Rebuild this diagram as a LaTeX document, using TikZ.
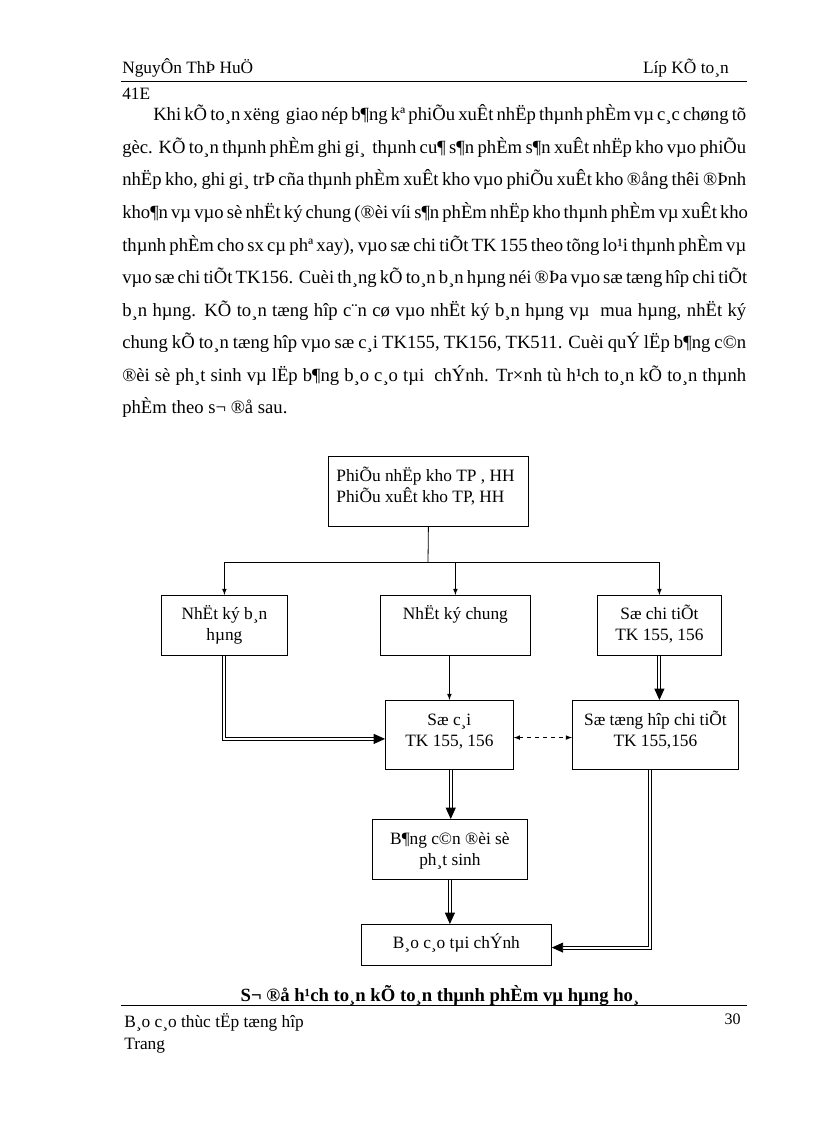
\documentclass[tikz,border=0pt]{standalone}
\usepackage{fontspec}
\setmainfont{Liberation Serif}
\usetikzlibrary{arrows.meta}
\newdimen\pxu \pxu=0.75pt
% box text: width, height, top gap, text
\newcommand{\boxtxt}[4]{\parbox[c][#2\pxu][t]{#1\pxu}{\centering\vspace{#3\pxu}\strut#4}}
\newcommand{\jline}[2]{\makebox[#1\pxu][s]{#2}}
\tikzset{
	tbox/.style={draw,line width=0.6pt,inner sep=0pt,anchor=north west,font=\fontsize{13}{16.1}\selectfont},
	txt/.style={inner sep=0pt,anchor=base west},
	small/.style={font=\fontsize{13}{15}\selectfont},
	dbl/.style={double,double distance=1.6pt,line width=0.65pt,-{Triangle[length=8.5pt,width=7.5pt]}}
}
\begin{document}
\begin{tikzpicture}[x=0.75pt,y=-0.75pt,font=\fontsize{14}{16.1}\selectfont]
	\useasboundingbox (0,0) rectangle (816,1123);
	% header
	\node[txt,small] (name) at (122,74) {NguyÔn ThÞ HuÖ};
	\node[inner sep=0pt,anchor=base east,small] (class) at (729,74) {Líp KÕ to¸n};
	\draw[line width=0.6pt] (121,81.5) -- (747,81.5);
	\node[txt,small] (group) at (122,100) {41E};
	% text
	\node[txt] (l1) at (153,121) {\jline{593}{Khi kÕ to¸n xëng \ giao nép b¶ng kª phiÕu xuÊt nhËp thµnh phÈm vµ c¸c chøng tõ}};
	\node[txt] (l2) at (122,153.5) {\jline{624}{gèc. KÕ to¸n thµnh phÈm ghi gi¸ \ thµnh cu¶ s¶n phÈm s¶n xuÊt nhËp kho vµo phiÕu}};
	\node[txt] (l3) at (122,186) {\jline{624}{nhËp kho, ghi gi¸ trÞ cña thµnh phÈm xuÊt kho vµo phiÕu xuÊt kho ®ång thêi ®Þnh}};
	\node[txt] (l4) at (122,218.5) {\jline{624}{kho¶n vµ vµo sè nhËt ký chung (®èi víi s¶n phÈm nhËp kho thµnh phÈm vµ xuÊt kho}};
	\node[txt] (l5) at (122,251) {\jline{624}{thµnh phÈm cho sx cµ phª xay), vµo sæ chi tiÕt TK 155 theo tõng lo¹i thµnh phÈm vµ}};
	\node[txt] (l6) at (122,283.5) {\jline{624}{vµo sæ chi tiÕt TK156. Cuèi th¸ng kÕ to¸n b¸n hµng néi ®Þa vµo sæ tæng hîp chi tiÕt}};
	\node[txt] (l7) at (122,316) {\jline{624}{b¸n hµng. KÕ to¸n tæng hîp c¨n cø vµo nhËt ký b¸n hµng vµ \ mua hµng, nhËt ký}};
	\node[txt] (l8) at (122,348.5) {\jline{624}{chung kÕ to¸n tæng hîp vµo sæ c¸i TK155, TK156, TK511. Cuèi quÝ lËp b¶ng c©n}};
	\node[txt] (l9) at (122,381) {\jline{624}{®èi sè ph¸t sinh vµ lËp b¶ng b¸o c¸o tµi \ chÝnh. Tr×nh tù h¹ch to¸n kÕ to¸n thµnh}};
	\node[txt] (l10) at (122,413.5) {phÈm theo s¬ ®å sau.};
	% diagram
	\node[tbox] (phieu) at (328,456) {\parbox[c][70\pxu][t]{200\pxu}{\raggedright\vspace{10\pxu}\hspace*{8\pxu}\strut PhiÕu nhËp kho TP , HH\\\hspace*{8\pxu}PhiÕu xuÊt kho TP, HH}};
	\node[tbox] (nkban) at (161,595) {\boxtxt{126}{60}{9}{NhËt ký b¸n\\hµng}};
	\node[tbox] (nkchung) at (380,595) {\boxtxt{150}{60}{9}{NhËt ký chung}};
	\node[tbox] (sochitiet) at (597,595) {\boxtxt{124}{60}{9}{Sæ chi tiÕt\\TK 155, 156}};
	\node[tbox] (socai) at (385,700) {\boxtxt{128}{69}{10}{Sæ c¸i\\TK 155, 156}};
	\node[tbox] (sotonghop) at (572,700) {\boxtxt{166}{69}{10}{Sæ tæng hîp chi tiÕt\\TK 155,156}};
	\node[tbox] (bangcandoi) at (372,819) {\boxtxt{155}{60}{10}{B¶ng c©n ®èi sè\\ph¸t sinh}};
	\node[tbox] (baocao) at (361,924) {\boxtxt{190}{41}{9}{B¸o c¸o tµi chÝnh}};
	\coordinate (split) at (428,562);
	\draw[line width=0.6pt] (phieu.south) -- (split);
	\draw[line width=0.6pt,->,>=latex] (split) -| (nkban.north);
	\draw[line width=0.6pt,->,>=latex] (split) -| (nkchung.north);
	\draw[line width=0.6pt,->,>=latex] (split) -| (sochitiet.north);
	\draw[line width=0.6pt,->,>=latex] (socai.north |- nkchung.south) -- (socai.north);
	\draw[dbl] (nkban.south) |- ([yshift=-3]socai.west);
	\draw[dbl] (sochitiet.south) -- (sochitiet.south |- sotonghop.north);
	\draw[line width=0.6pt,dashed,<->,>=latex] ([yshift=-2]socai.east) -- ([yshift=-2]sotonghop.west);
	\draw[dbl] ([xshift=1]socai.south) -- ([xshift=1]socai.south |- bangcandoi.north);
	\draw[dbl] (bangcandoi.south) -- (bangcandoi.south |- baocao.north);
	\draw[dbl] ([xshift=-4]sotonghop.south) |- ([yshift=-2]baocao.east);
	% footer
	\node[inner sep=0pt,anchor=base,font=\fontsize{14}{16.1}\selectfont\bfseries] (caption) at (440,1001) {S¬ ®å h¹ch to¸n kÕ to¸n thµnh phÈm vµ hµng ho¸};
	\draw[line width=0.6pt] (121,1005) -- (747,1005);
	\node[txt,small] (report) at (124,1027) {B¸o c¸o thùc tËp tæng hîp};
	\node[txt,small] (page) at (124,1049) {Trang};
	\node[inner sep=0pt,anchor=base east,font=\fontsize{12}{14}\selectfont] (num) at (741,1024) {30};
\end{tikzpicture}
\end{document}
